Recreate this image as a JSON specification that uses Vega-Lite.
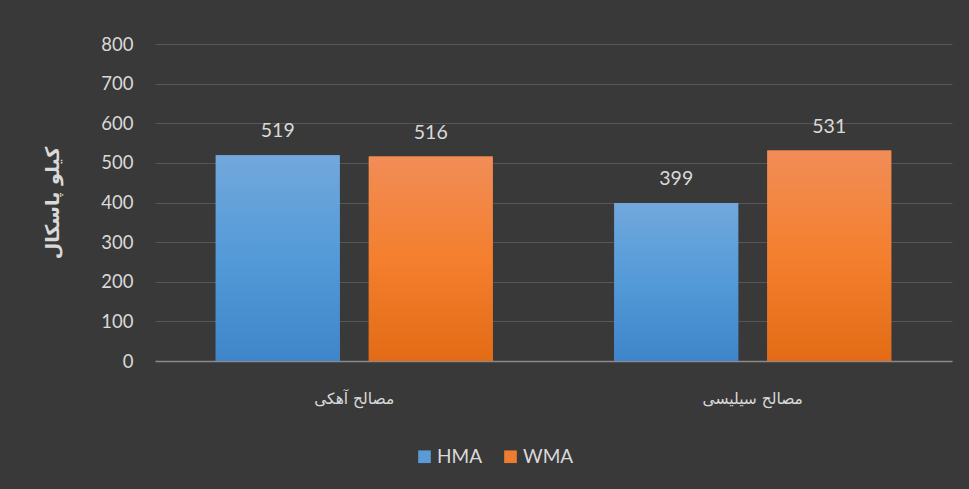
{
  "$schema": "https://vega.github.io/schema/vega-lite/v6.json",
  "width": 797,
  "height": 317,
  "autosize": {"type": "none"},
  "padding": {"left": 155, "top": 44, "right": 17, "bottom": 128},
  "background": "#393939",
  "config": {
    "view": {"stroke": null},
    "font": "Lato",
    "axis": {"labelColor": "#d9d9d9", "titleColor": "#d9d9d9"}
  },
  "data": {
    "values": [
      {"group": "مصالح آهکی", "series": "HMA", "value": 519},
      {"group": "مصالح آهکی", "series": "WMA", "value": 516},
      {"group": "مصالح سیلیسی", "series": "HMA", "value": 399},
      {"group": "مصالح سیلیسی", "series": "WMA", "value": 531}
    ]
  },
  "encoding": {
    "x": {
      "field": "group", "type": "nominal", "sort": null,
      "scale": {"paddingInner": 0, "paddingOuter": 0},
      "axis": {
        "title": null, "labelAngle": 0, "labelFont": "DejaVu Sans", "labelFontSize": 15.5,
        "labelPadding": 30, "ticks": false, "domainColor": "#8a8a8a", "domainWidth": 1.5,
        "grid": false
      }
    },
    "xOffset": {
      "field": "series", "type": "nominal",
      "scale": {"paddingInner": 0.19, "paddingOuter": 0.397}
    },
    "y": {
      "field": "value", "type": "quantitative",
      "scale": {"domain": [0, 800]},
      "axis": {
        "title": "کیلو پاسکال", "titleFont": "DejaVu Sans", "titleFontSize": 19, "titleFontWeight": "bold",
        "titlePadding": 38, "values": [0,100,200,300,400,500,600,700,800],
        "labelOverlap": false, "labelFontSize": 18.5, "labelPadding": 22, "ticks": false, "domain": false,
        "gridColor": "#575757", "gridWidth": 1.2
      }
    }
  },
  "layer": [
    {
      "mark": {"type": "bar"},
      "encoding": {
        "color": {
          "field": "series", "type": "nominal",
          "scale": {"domain": ["HMA", "WMA"], "range": ["#5b9bd5", "#ed7d31"]},
          "legend": {
            "title": null, "orient": "none", "direction": "horizontal",
            "legendX": 260, "legendY": 403, "symbolType": "square", "symbolSize": 160,
            "symbolStrokeWidth": 0, "labelColor": "#d9d9d9", "labelFontSize": 19,
            "columnPadding": 18, "labelOffset": 3
          }
        }
      }
    },
    {
      "transform": [{"filter": "datum.series === 'HMA'"}],
      "mark": {
        "type": "bar",
        "color": {
          "gradient": "linear", "x1": 0, "y1": 0, "x2": 0, "y2": 1,
          "stops": [{"offset": 0, "color": "#72a8dc"}, {"offset": 0.5, "color": "#539ad8"}, {"offset": 1, "color": "#3e86c9"}]
        }
      },
      "encoding": {}
    },
    {
      "transform": [{"filter": "datum.series === 'WMA'"}],
      "mark": {
        "type": "bar",
        "color": {
          "gradient": "linear", "x1": 0, "y1": 0, "x2": 0, "y2": 1,
          "stops": [{"offset": 0, "color": "#f18d57"}, {"offset": 0.5, "color": "#f47f2e"}, {"offset": 1, "color": "#e36b15"}]
        }
      },
      "encoding": {}
    },
    {
      "mark": {"type": "text", "baseline": "alphabetic", "dy": -18, "fontSize": 19.5, "color": "#d9d9d9"},
      "encoding": {"text": {"field": "value", "type": "quantitative"}}
    }
  ]
}
